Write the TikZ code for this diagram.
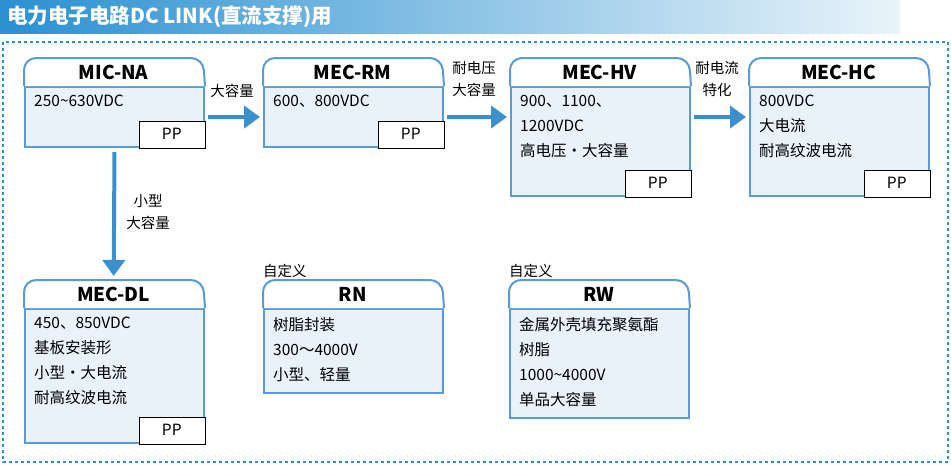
\documentclass[tikz,border=0pt]{standalone}
\usepackage{fontspec}
\setmainfont{Noto Sans CJK SC}
\usetikzlibrary{arrows.meta,positioning}
\definecolor{edgeblue}{HTML}{5B9BD5}
\definecolor{arrowblue}{HTML}{3A8FCC}
\definecolor{bodyfill}{HTML}{E9F1F9}
\definecolor{framblue}{HTML}{2A90D0}
\tikzset{
  headcell/.style={minimum width=179pt, minimum height=28pt, inner sep=0pt, anchor=north west, font=\fontsize{19}{20}\selectfont\bfseries},
  bodycell/.style={draw=edgeblue, line width=2pt, fill=bodyfill, minimum width=179pt, inner sep=0pt, anchor=north west},
  bodytext/.style={anchor=north west, align=left, inner sep=0pt, font=\fontsize{15.5}{25}\selectfont},
  ppcell/.style={draw=black, fill=white, minimum width=66pt, minimum height=27pt, inner sep=0pt, anchor=south east, font=\fontsize{15.5}{18}\selectfont},
  bigarrow/.style={draw=arrowblue, line width=4pt, -{Triangle[length=16pt,width=22pt]}},
  arrowlabel/.style={align=center, inner sep=0pt, font=\fontsize{14.5}{22}\selectfont}
}
% #1 name, #2 x, #3 y, #4 body height, #5 title
\newcommand{\capbox}[5]{%
  \node[bodycell, minimum height=#4] (#1B) at (#2,#3+28) {};
  \draw[edgeblue, line width=2pt, fill=white, rounded corners=12pt]
    (#1B.north west) -- (#2,#3) -- (#2+179,#3) -- (#1B.north east);
  \node[headcell] (#1) at (#2,#3) {#5};
}
\begin{document}
\begin{tikzpicture}[x=1pt,y=-1pt]
\useasboundingbox (0,0) rectangle (951,464);
% title bar
\shade[left color=framblue, right color=framblue!10] (0,0) rectangle (900,33);
\node[anchor=west, text=white, inner sep=0pt, font=\fontsize{20.5}{22}\selectfont\bfseries] (title) at (7,17) {电力电子电路DC LINK(直流支撑)用};
\draw[framblue, line width=2pt, dashed] (3,42) rectangle (948,462);

\capbox{na}{24}{58}{60}{MIC-NA}
\capbox{rm}{263}{58}{60}{MEC-RM}
\capbox{hv}{510}{58}{109}{MEC-HV}
\capbox{hc}{749}{58}{109}{MEC-HC}
\capbox{dl}{24}{280}{134}{MEC-DL}
\capbox{rn}{263}{280}{84}{RN}
\capbox{rw}{509}{280}{109}{RW}

\node[bodytext] (naT) at ([xshift=10pt,yshift=-9pt]naB.north west) {250\textasciitilde630VDC};
\node[bodytext] (rmT) at ([xshift=10pt,yshift=-9pt]rmB.north west) {600、800VDC};
\node[bodytext] (hvT) at ([xshift=10pt,yshift=-9pt]hvB.north west) {900、1100、\\1200VDC\\高电压・大容量};
\node[bodytext] (hcT) at ([xshift=10pt,yshift=-9pt]hcB.north west) {800VDC\\大电流\\耐高纹波电流};
\node[bodytext] (dlT) at ([xshift=10pt,yshift=-9pt]dlB.north west) {450、850VDC\\基板安装形\\小型・大电流\\耐高纹波电流};
\node[bodytext] (rnT) at ([xshift=10pt,yshift=-9pt]rnB.north west) {树脂封装\\300～4000V\\小型、轻量};
\node[bodytext] (rwT) at ([xshift=10pt,yshift=-9pt]rwB.north west) {金属外壳填充聚氨酯\\树脂\\1000\textasciitilde4000V\\单品大容量};

\node[ppcell] (naP) at (naB.south east) {PP};
\node[ppcell] (rmP) at (rmB.south east) {PP};
\node[ppcell] (hvP) at (hvB.south east) {PP};
\node[ppcell] (hcP) at (hcB.south east) {PP};
\node[ppcell] (dlP) at (dlB.south east) {PP};

\node[arrowlabel, anchor=north west] (rnL) at ([yshift=16pt]rn.north west) {自定义};
\node[arrowlabel, anchor=north west] (rwL) at ([yshift=16pt]rw.north west) {自定义};

\draw[bigarrow] ([xshift=3pt]naB.east) -- ([xshift=-3pt]rmB.west);
\draw[bigarrow] ([xshift=3pt]rmB.east) -- ([xshift=-3pt]rmB.east -| hvB.west);
\draw[bigarrow] ([xshift=3pt]rmB.east -| hvB.east) -- ([xshift=-3pt]rmB.east -| hcB.west);
\draw[bigarrow] ([yshift=-4pt]naB.south) -- ([yshift=4pt]dl.north);

\node[arrowlabel] (l1) at (232,91) {大容量};
\node[arrowlabel] (l2) at (474,79) {耐电压\\大容量};
\node[arrowlabel] (l3) at (717,79) {耐电流\\特化};
\node[arrowlabel] (l4) at (148,212) {小型\\大容量};
\end{tikzpicture}
\end{document}
